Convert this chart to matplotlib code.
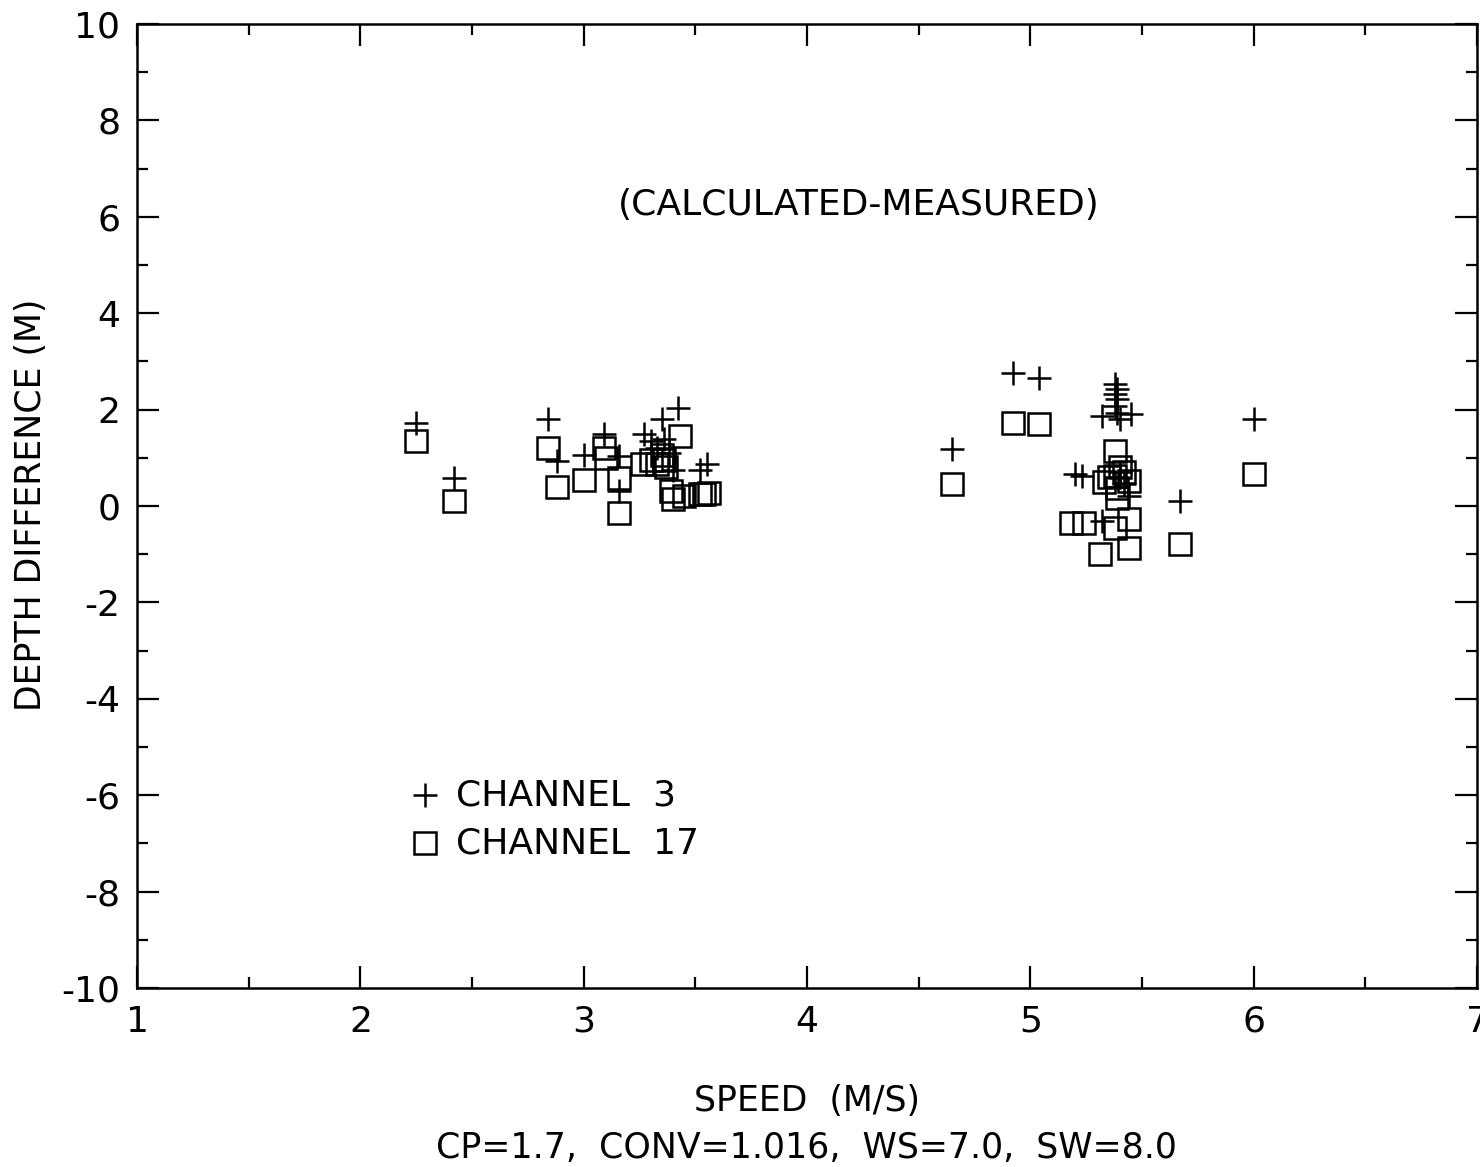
import matplotlib
matplotlib.use("Agg")
import matplotlib.pyplot as plt
from matplotlib.ticker import MultipleLocator

# channel 3 (plus markers)
ch3_speed = [2.25, 2.42, 2.84, 2.88, 3.00, 3.09, 3.16, 3.16, 3.27, 3.30, 3.33, 3.35,
             3.36, 3.38, 3.42, 3.40, 3.52, 3.55, 4.65, 4.92, 5.04, 5.20, 5.23, 5.32,
             5.32, 5.38, 5.39, 5.38, 5.39, 5.38, 5.39, 5.40, 5.45, 5.40, 5.42, 5.44,
             5.67, 6.00]
ch3_diff = [1.72, 0.58, 1.80, 0.93, 1.06, 1.49, 1.04, 0.31, 1.49, 1.35, 1.20, 1.80,
            1.40, 1.10, 2.03, 0.75, 0.75, 0.87, 1.18, 2.76, 2.66, 0.66, 0.62, 1.87,
            -0.31, 2.53, 2.43, 2.32, 2.22, 2.07, 1.93, 1.80, 1.91, 0.70, 0.45, 0.20,
            0.10, 1.80]

# channel 17 (square markers)
ch17_speed = [2.25, 2.42, 2.84, 2.88, 3.00, 3.09, 3.10, 3.16, 3.16, 3.26, 3.30, 3.33,
              3.35, 3.36, 3.37, 3.43, 3.39, 3.40, 3.45, 3.52, 3.54, 3.56, 4.65, 4.92,
              5.04, 5.18, 5.24, 5.31, 5.33, 5.35, 5.38, 5.38, 5.39, 5.39, 5.40, 5.42,
              5.44, 5.38, 5.44, 5.44, 5.67, 6.00]
ch17_diff = [1.35, 0.10, 1.20, 0.40, 0.54, 1.20, 1.00, 0.58, -0.15, 0.87, 0.95, 0.87,
             1.05, 0.95, 0.80, 1.45, 0.31, 0.15, 0.20, 0.25, 0.25, 0.27, 0.46, 1.72,
             1.70, -0.35, -0.35, -1.00, 0.50, 0.60, 1.14, 0.62, 0.37, 0.17, 0.80, 0.70,
             0.52, -0.46, -0.27, -0.87, -0.79, 0.66]

plt.rcParams['font.family'] = ['DejaVu Sans']
plt.rcParams['axes.unicode_minus'] = False

fig = plt.figure(figsize=(14.8, 11.67), dpi=100)
ax = fig.add_axes([0.0926, 0.1534, 0.9054, 0.826])

ax.plot(ch3_speed, ch3_diff, linestyle='none', marker='+', markersize=17,
        markeredgewidth=1.8, color='black')
ax.plot(ch17_speed, ch17_diff, linestyle='none', marker='s', markersize=16,
        markerfacecolor='none', markeredgewidth=1.8, color='black')

ax.set_xlim(1, 7)
ax.set_ylim(-10, 10)
ax.xaxis.set_major_locator(MultipleLocator(1))
ax.xaxis.set_minor_locator(MultipleLocator(0.5))
ax.yaxis.set_major_locator(MultipleLocator(2))
ax.yaxis.set_minor_locator(MultipleLocator(1))
ax.tick_params(which='both', direction='in', top=True, right=True, width=1.6,
               labelsize=26)
ax.tick_params(which='major', length=16, pad=12)
ax.tick_params(which='minor', length=8)
for s in ax.spines.values():
    s.set_linewidth(1.8)

ax.text(4.23, 6.24, '(CALCULATED-MEASURED)', fontsize=26, ha='center', va='center')

# legend drawn by hand
ax.plot([2.29], [-6.0], marker='+', markersize=17, markeredgewidth=1.8, color='black')
ax.text(2.43, -6.0, 'CHANNEL  3', fontsize=26, va='center')
ax.plot([2.29], [-7.0], marker='s', markersize=16, markerfacecolor='none',
        markeredgewidth=1.8, color='black')
ax.text(2.43, -7.0, 'CHANNEL  17', fontsize=26, va='center')

fig.text(0.021, 0.567, 'DEPTH DIFFERENCE (M)', fontsize=25, rotation=90,
         ha='center', va='center')
fig.text(0.545, 1 - 1101 / 1167, 'SPEED  (M/S)', fontsize=25, ha='center', va='center')
fig.text(0.545, 1 - 1148 / 1167, 'CP=1.7,  CONV=1.016,  WS=7.0,  SW=8.0',
         fontsize=25, ha='center', va='center')

fig.savefig('out.png', dpi=100)
